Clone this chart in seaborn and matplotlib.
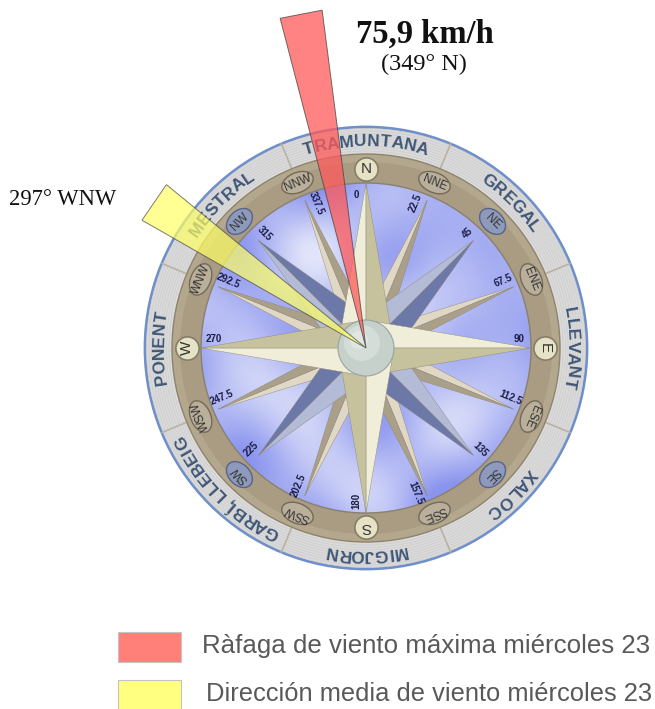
import numpy as np
import pandas as pd
import matplotlib
matplotlib.use("Agg")
import matplotlib.pyplot as plt
import seaborn as sns
from matplotlib.patches import Circle, Ellipse, Polygon, Rectangle
from matplotlib.textpath import TextToPath
from matplotlib.font_manager import FontProperties

# rumbos de la rosa (16) y sus grados
rumbos = ["N", "NNE", "NE", "ENE", "E", "ESE", "SE", "SSE",
          "S", "SSW", "SW", "WSW", "W", "WNW", "NW", "NNW"]
grados = [0, 22.5, 45, 67.5, 90, 112.5, 135, 157.5,
          180, 202.5, 225, 247.5, 270, 292.5, 315, 337.5]
etiquetas_grados = ["0", "22.5", "45", "67.5", "90", "112.5", "135", "157.5",
                    "180", "202.5", "225", "247.5", "270", "292.5", "315", "337.5"]

# vientos de la rosa catalana
vientos = ["TRAMUNTANA", "GREGAL", "LLEVANT", "XALOC",
           "MIGJORN", "GARBÍ, LLEBEIG", "PONENT", "MESTRAL"]
vientos_grados = [0, 45, 90, 135, 180, 225, 270, 315]

# series (rafaga y direccion media)
series = ["Ràfaga de viento máxima miércoles 23",
          "Dirección media de viento miércoles 23"]
direccion_dibujada = [349, 304.5]
texto_rafaga = "75,9 km/h"
texto_rafaga_dir = "(349° N)"
texto_media = "297° WNW"

colores_serie = ["#FF5A5A", "#FFFF66"]
colores_leyenda = ["#FF8078", "#FFFF80"]

cx, cy = 366, 348


def pol(r, b):
    a = np.radians(b)
    return cx + r * np.sin(a), cy - r * np.cos(a)


sns.set_theme(style="white")
plt.rcParams['font.family'] = ['Liberation Sans', 'DejaVu Sans']

fig = plt.figure(figsize=(6.55, 7.09), dpi=100)
ax = fig.add_axes([0, 0, 1, 1])
ax.set_xlim(0, 655)
ax.set_ylim(709, 0)
ax.set_aspect('equal')
ax.axis('off')

# anillo exterior gris
ax.add_patch(Circle((cx, cy), 221, facecolor="#DADADA", edgecolor="#6F8FCB", lw=2, zorder=1))
for r in np.arange(197, 220, 2.5):
    ax.add_patch(Circle((cx, cy), r, facecolor="none", edgecolor="#CDCDCD", lw=0.5, zorder=1))
for b in np.arange(22.5, 360, 45):
    x0, y0 = pol(194, b)
    x1, y1 = pol(221, b)
    ax.plot([x0, x1], [y0, y1], color="#B9B2A4", lw=1.2, zorder=2)

# anillo marron
ax.add_patch(Circle((cx, cy), 194, facecolor="#B3A78E", edgecolor="#8E836C", lw=1, zorder=2))
ax.add_patch(Circle((cx, cy), 186, facecolor="#A99C83", edgecolor="none", zorder=2))

# disco azul con nubes
n = 300
xs = np.linspace(-165, 165, n)
X, Y = np.meshgrid(xs, xs)
z = (0.55 + 0.2 * np.sin(X / 21 + 1) * np.cos(Y / 27)
     + 0.15 * np.sin((X - Y) / 33) + 0.12 * np.cos((X + 2 * Y) / 41)
     - 0.25 * (np.hypot(X, Y) / 165) ** 2)
z = np.clip(z, 0, 1)
azul = np.array([138, 148, 238]) / 255
blanco = np.array([238, 240, 252]) / 255
img = azul[None, None, :] * (1 - z[..., None]) + blanco[None, None, :] * z[..., None]
disco = Circle((cx, cy), 165, facecolor="none", edgecolor="#8A8070", lw=1, zorder=4)
ax.add_patch(disco)
im = ax.imshow(img, extent=[cx - 165, cx + 165, cy + 165, cy - 165], zorder=3)
im.set_clip_path(disco)

# estrella de 16 puntas
def punta(b, largo, ancho, claro, oscuro):
    c = (cx, cy)
    t = pol(largo, b)
    izq = pol(ancho, b - 90)
    der = pol(ancho, b + 90)
    ax.add_patch(Polygon([c, t, izq], closed=True, facecolor=claro, edgecolor="#8C8878", lw=0.3, zorder=5))
    ax.add_patch(Polygon([c, t, der], closed=True, facecolor=oscuro, edgecolor="#8C8878", lw=0.3, zorder=5))


for b in grados:
    if b % 45 != 0:
        punta(b, 160, 15, "#E0D8C4", "#AA9F88")
for b in grados:
    if b % 90 == 45:
        punta(b, 152, 26, "#B4BBD6", "#6C78A8")
for b in grados:
    if b % 90 == 0:
        punta(b, 165, 28, "#F0EED8", "#C6C29E")

ax.add_patch(Circle((cx, cy), 28, facecolor="#C6D1CC", edgecolor="#9AA59F", lw=0.8, zorder=6))
ax.add_patch(Circle((cx - 4, cy - 5), 18, facecolor="#D4DDD8", edgecolor="none", zorder=6))
ax.add_patch(Circle((cx - 7, cy - 8), 9, facecolor="#E0E7E3", edgecolor="none", zorder=6))

# etiquetas de grados
for b, t in zip(grados, etiquetas_grados):
    bb = b - 3.5 if b <= 135 else b + 3.5
    x, y = pol(153, bb)
    rot = 0 if b == 0 else 90 - (b % 180)
    ax.text(x, y, t, fontsize=7, fontweight="bold", color="#1C1C44",
            ha="center", va="center", rotation=rot, rotation_mode="anchor", zorder=7)

# insignias de rumbos
for nombre, b in zip(rumbos, grados):
    x, y = pol(179, b)
    if b % 90 == 0:
        continue
    if b % 90 == 45:
        ax.add_patch(Ellipse((x, y), 30, 21, angle=b, facecolor="#8E9ABB", edgecolor="#59638A", lw=1, zorder=7))
    else:
        ax.add_patch(Ellipse((x, y), 33, 20, angle=b, facecolor="#B9AF9B", edgecolor="#746A58", lw=1, zorder=7))

df_card = pd.DataFrame({
    "x": [pol(179, b)[0] for b in grados if b % 90 == 0],
    "y": [pol(179, b)[1] for b in grados if b % 90 == 0],
})
sns.scatterplot(data=df_card, x="x", y="y", s=280, color="#E6E2C6",
                edgecolor="#857F68", linewidth=1.2, ax=ax, zorder=7, legend=False)

for nombre, b in zip(rumbos, grados):
    x, y = pol(179, b)
    fs = 11 if b % 90 == 0 else 8.5
    ax.text(x, y, nombre, fontsize=fs, color="#333333", ha="center", va="center",
            rotation=-b, rotation_mode="anchor", zorder=8)

ax.set_xlim(0, 655)
ax.set_ylim(709, 0)
ax.axis('off')

# nombres de vientos en curva
fp = FontProperties(family="Liberation Sans", weight="bold", size=12.5)
ttp = TextToPath()
R = 202
for nombre, b0 in zip(vientos, vientos_grados):
    anchos = [ttp.get_text_width_height_descent(ch, fp, ismath=False)[0] * 100 / 72 for ch in nombre]
    total = sum(anchos)
    ang0 = b0 - np.degrees(total / 2 / R)
    acum = 0
    for ch, w in zip(nombre, anchos):
        ang = ang0 + np.degrees((acum + w / 2) / R)
        acum += w
        x, y = pol(R, ang)
        ax.text(x, y, ch, fontproperties=fp, color="#3F5677", ha="center", va="baseline",
                rotation=-ang, rotation_mode="anchor", zorder=8)

# cunas de viento
largos = [340, 257]
medios = [3.6, 4.8]
for b, l, m, col, al in zip(direccion_dibujada[::-1], largos[::-1], medios[::-1],
                            colores_serie[::-1], [0.7, 0.75]):
    d = l / np.cos(np.radians(m))
    pts = [(cx, cy), pol(d, b - m), pol(d, b + m)]
    ax.add_patch(Polygon(pts, closed=True, facecolor=col, alpha=al,
                         edgecolor="#444444", lw=0.7, zorder=9))

serif = ['Liberation Serif', 'DejaVu Serif']
ax.text(425, 43, texto_rafaga, family=serif, fontweight="bold", fontsize=23.5,
        color="#111111", ha="center", va="baseline", zorder=10)
ax.text(424, 70, texto_rafaga_dir, family=serif, fontsize=17.5,
        color="#111111", ha="center", va="baseline", zorder=10)
ax.text(9, 205, texto_media, family=serif, fontsize=16.3,
        color="#111111", ha="left", va="baseline", zorder=10)

# leyenda
ys = [632, 680]
xt = [202, 206]
tamanos = [18.6, 18.4]
for s, col, y0, x0, fs in zip(series, colores_leyenda, ys, xt, tamanos):
    ax.add_patch(Rectangle((118, y0), 63, 30, facecolor=col, edgecolor="#C4C4C4", lw=0.8, zorder=10))
    ax.text(x0, y0 + 21, s, fontsize=fs, color="#595959", ha="left", va="baseline", zorder=10)

fig.savefig("out.png", dpi=100)
